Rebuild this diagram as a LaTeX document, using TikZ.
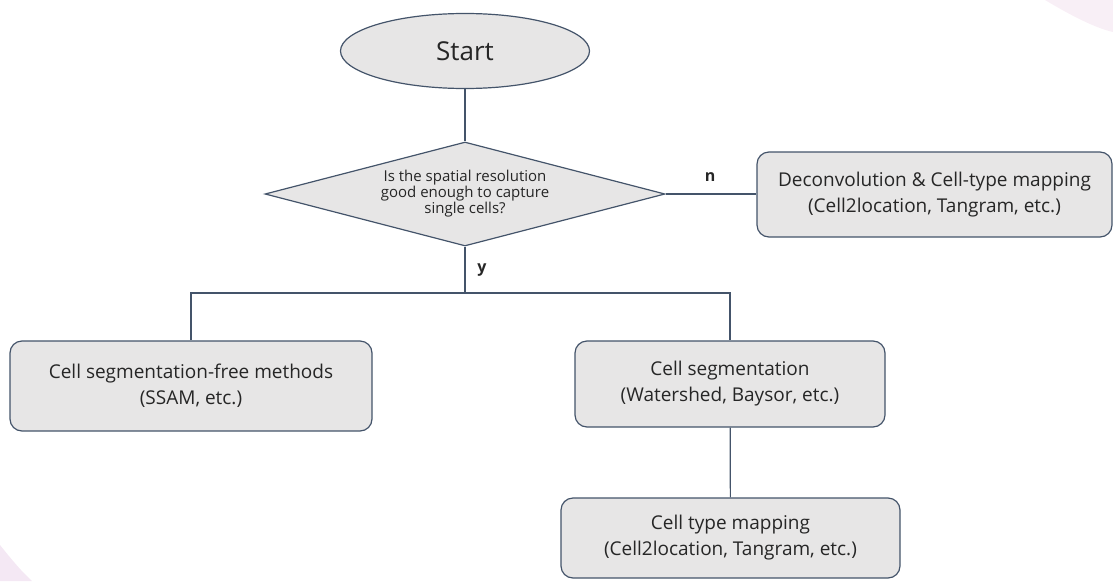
\documentclass[tikz,border=0pt]{standalone}
\usepackage{fontspec}
\setmainfont{Open Sans}
\usetikzlibrary{shapes.geometric}
\definecolor{edge}{HTML}{44546A}
\definecolor{boxfill}{HTML}{E7E6E6}
\definecolor{txt}{HTML}{262626}
\tikzset{
  box/.style={draw=edge, line width=1.2pt, fill=boxfill, rounded corners=12pt, text=txt, align=center, inner sep=0pt, font=\fontsize{19}{26}\selectfont},
  conn/.style={draw=edge, line width=1.2pt},
  lab/.style={text=txt, font=\fontsize{16}{18}\selectfont\bfseries},
}
\begin{document}
\begin{tikzpicture}[x=1pt,y=-1pt]
\useasboundingbox (0,0) rectangle (1113,581);
\fill[pink!40!violet!15, opacity=0.6] (1045,0) .. controls (1070,15) and (1095,28) .. (1113,32) -- (1113,0) -- cycle;
\fill[violet!15, opacity=0.6] (0,545) .. controls (12,560) and (22,572) .. (32,581) -- (0,581) -- cycle;
\node[ellipse, draw=edge, line width=1.2pt, fill=boxfill, minimum width=249pt, minimum height=75pt, inner sep=0pt, text=txt, font=\fontsize{26}{30}\selectfont] (start) at (465,51) {Start};
\node[diamond, draw=edge, line width=1.2pt, fill=boxfill, minimum width=400pt, minimum height=104pt, aspect=3.85, inner sep=0pt, text=txt, align=center, font=\fontsize{15}{16}\selectfont] (q) at (465,194) {Is the spatial resolution\\good enough to capture\\single cells?};
\node[box, minimum width=355pt, minimum height=85pt] (deconv) at (934.5,194.5) {Deconvolution \& Cell-type mapping\\(Cell2location, Tangram, etc.)};
\node[box, minimum width=362pt, minimum height=90pt] (free) at (191,386) {Cell segmentation-free methods\\(SSAM, etc.)};
\node[box, minimum width=310pt, minimum height=86pt] (seg) at (730,384) {Cell segmentation\\(Watershed, Baysor, etc.)};
\node[box, minimum width=339pt, minimum height=80pt] (map) at (730.5,538) {Cell type mapping\\(Cell2location, Tangram, etc.)};
\coordinate (split) at (465,293);
\draw[conn] (start) -- (q);
\draw[conn] (q.east) -- (deconv.west |- q.east);
\draw[conn] (q.south) -- (split);
\draw[conn] (split) -| (free.north);
\draw[conn] (split) -| (seg.north);
\draw[conn] (seg) -- (map);
\node[lab] (n) at (710,177) {n};
\node[lab] (y) at (482,270) {y};
\end{tikzpicture}
\end{document}
